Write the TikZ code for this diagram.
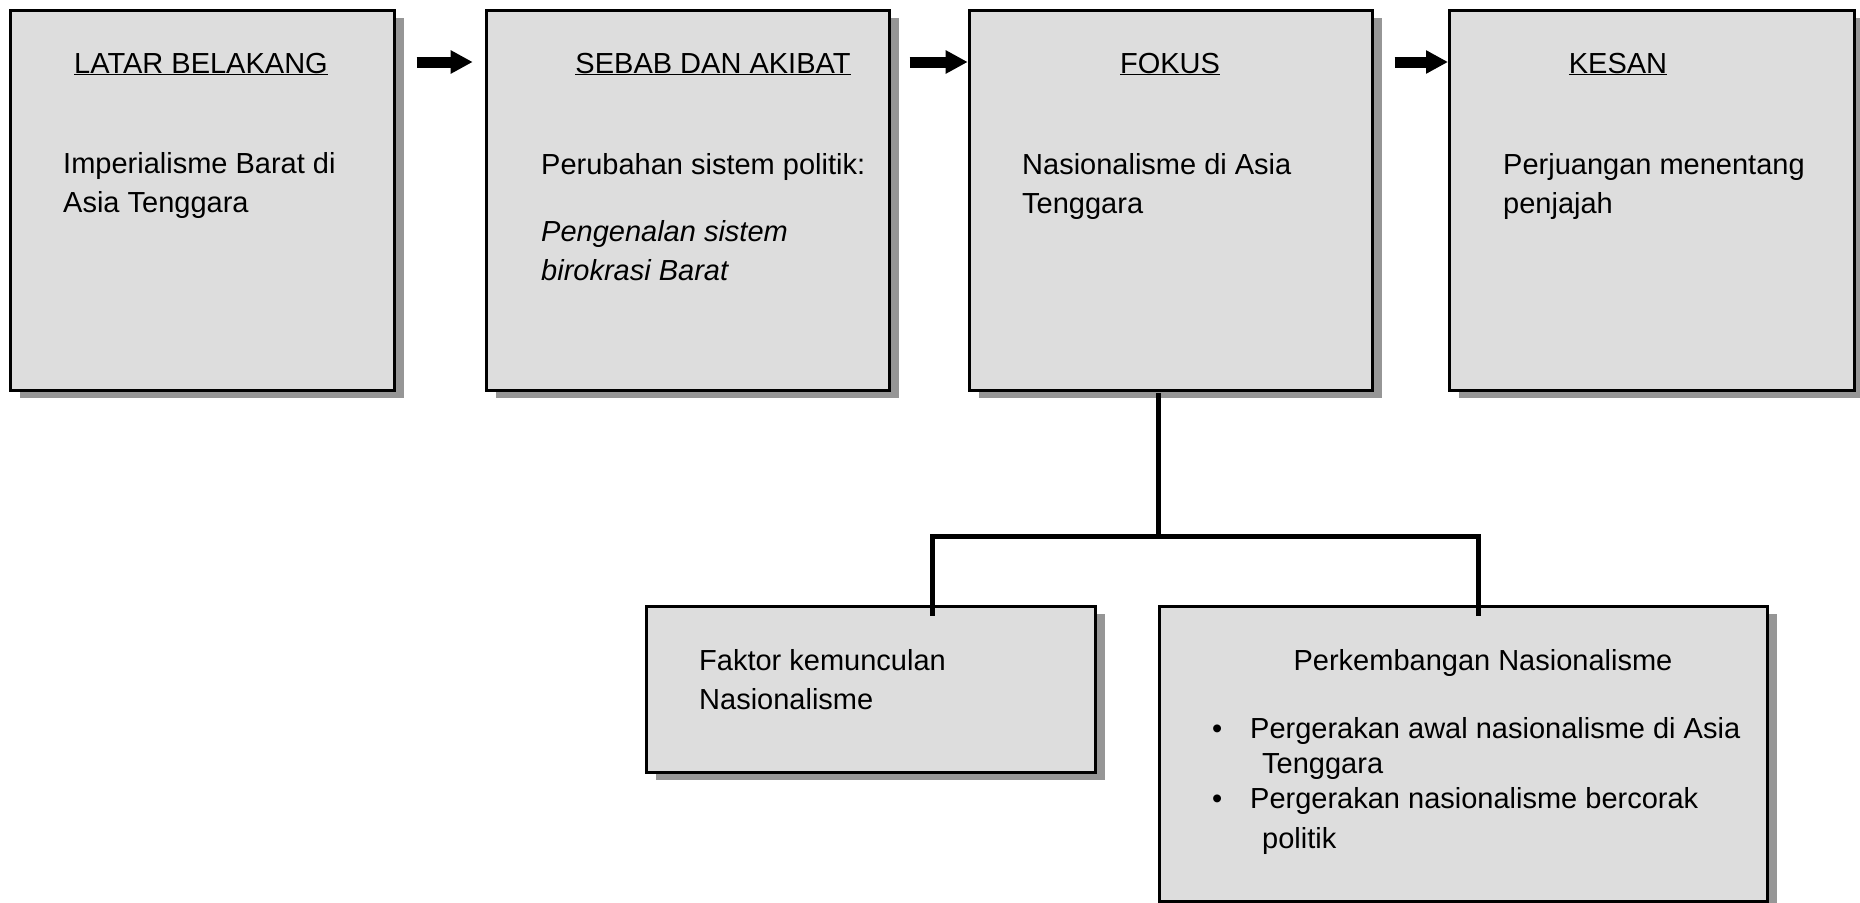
\documentclass[tikz,border=0pt]{standalone}
\usepackage{fontspec}
\setmainfont{Liberation Sans}
\usetikzlibrary{shadows,arrows.meta}
\definecolor{boxfill}{HTML}{DDDDDD}
\definecolor{shadowgray}{HTML}{969696}
\tikzset{
  box/.style={draw=black, line width=2.7pt, fill=boxfill, anchor=north west, inner sep=0pt,
    drop shadow={shadow xshift=10pt, shadow yshift=-8pt, fill=shadowgray, opacity=1}},
  txt/.style={anchor=base west, inner sep=0pt, font=\fontsize{29}{39}\selectfont},
  ttl/.style={anchor=base, inner sep=0pt, font=\fontsize{29}{39}\selectfont},
  conn/.style={line width=5pt, line cap=rect},
  blockarrow/.style={line width=11pt, -{Triangle[length=22pt,width=22pt]}}
}
\begin{document}
\begin{tikzpicture}[x=1pt,y=-1pt]
\useasboundingbox (0,0) rectangle (1860,902);
% top row boxes
\node[box, minimum width=384pt, minimum height=380pt] (b1) at (9,9) {};
\node[box, minimum width=403pt, minimum height=380pt] (b2) at (485,9) {};
\node[box, minimum width=403pt, minimum height=380pt] (b3) at (968,9) {};
\node[box, minimum width=405pt, minimum height=380pt] (b4) at (1448,9) {};
% bottom boxes
\node[box, minimum width=449pt, minimum height=166pt] (f1) at (645,605) {};
\node[box, minimum width=608pt, minimum height=295pt] (f2) at (1158,605) {};

% arrows
\draw[blockarrow] (b1.north east) ++(21,53) coordinate (a1s) -- ++(56,0) coordinate (a1e);
\draw[blockarrow] (b2.north east) ++(19,53) coordinate (a2s) -- ++(58,0) coordinate (a2e);
\draw[blockarrow] (b3.north east) ++(21,53) coordinate (a3s) -- (a3s -| b4.west) coordinate (a3e);

% tree connectors
\coordinate (j)  at (1158,536);
\coordinate (jl) at (932,536);
\coordinate (jr) at (1478,536);
\draw[conn] ([yshift=-4pt]j |- b3.south) -- (j);
\draw[conn] (jl) -- (jr);
\draw[conn] (jl) -- ([yshift=-8pt]jl |- f1.north);
\draw[conn] (jr) -- ([yshift=-8pt]jr |- f2.north);

% texts box 1
\node[ttl] (t1) at (201,73) {\underline{LATAR BELAKANG}};
\node[txt] (t1a) at (63,173) {Imperialisme Barat di};
\node[txt] (t1b) at (63,212) {Asia Tenggara};
% box 2
\node[ttl] (t2) at (713,73) {\underline{SEBAB DAN AKIBAT}};
\node[txt] (t2a) at (541,174) {Perubahan sistem politik:};
\node[txt] (t2b) at (541,241) {\itshape Pengenalan sistem};
\node[txt] (t2c) at (541,280) {\itshape birokrasi Barat};
% box 3
\node[ttl] (t3) at (1170,73) {\underline{FOKUS}};
\node[txt] (t3a) at (1022,174) {Nasionalisme di Asia};
\node[txt] (t3b) at (1022,213) {Tenggara};
% box 4
\node[ttl] (t4) at (1618,73) {\underline{KESAN}};
\node[txt] (t4a) at (1503,174) {Perjuangan menentang};
\node[txt] (t4b) at (1503,213) {penjajah};
% bottom left
\node[txt] (f1a) at (699,670) {Faktor kemunculan};
\node[txt] (f1b) at (699,709) {Nasionalisme};
% bottom right
\node[ttl] (f2t) at (1483,670) {Perkembangan Nasionalisme};
\node[txt] (bu1) at (1212,738) {•};
\node[txt] (f2a) at (1250,738) {Pergerakan awal nasionalisme di Asia};
\node[txt] (f2b) at (1262,773) {Tenggara};
\node[txt] (bu2) at (1212,808) {•};
\node[txt] (f2c) at (1250,808) {Pergerakan nasionalisme bercorak};
\node[txt] (f2d) at (1262,848) {politik};
\end{tikzpicture}
\end{document}
